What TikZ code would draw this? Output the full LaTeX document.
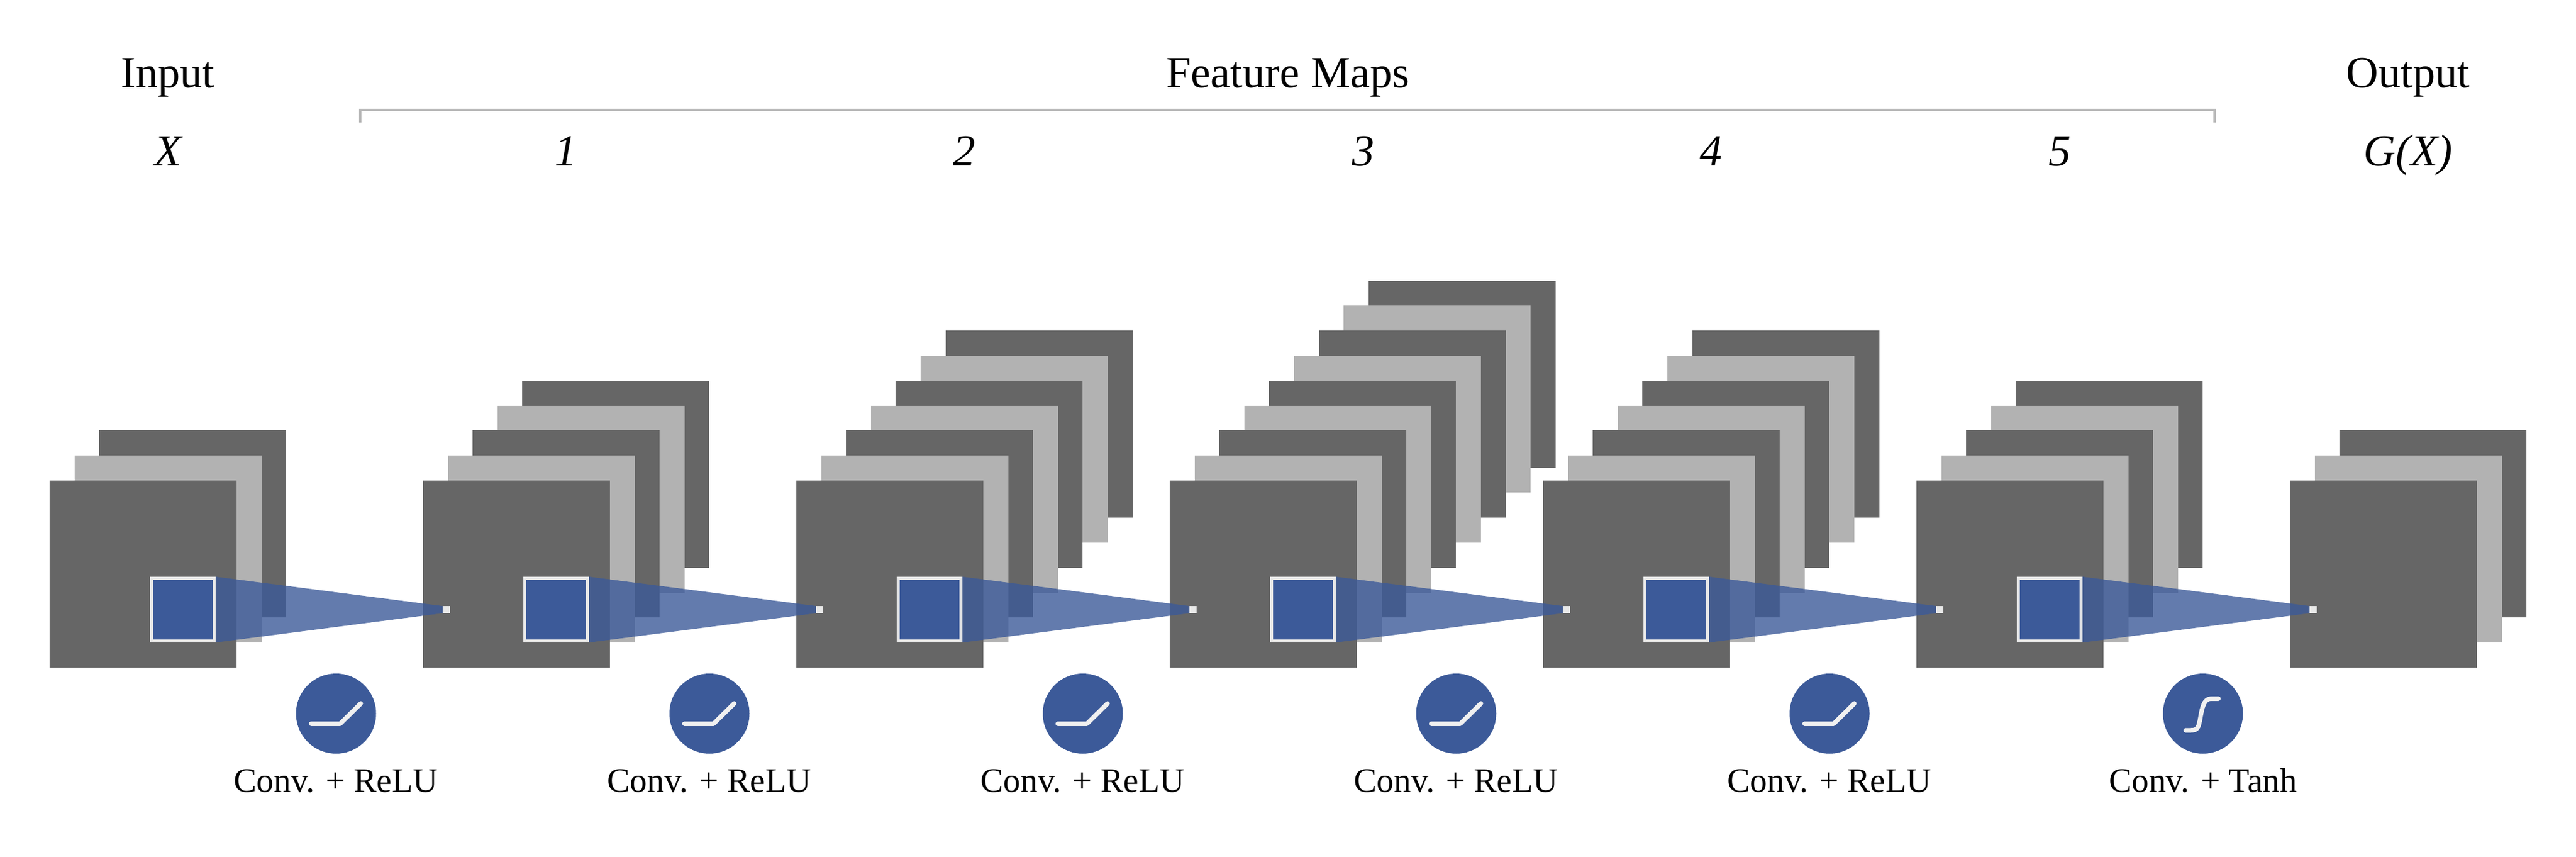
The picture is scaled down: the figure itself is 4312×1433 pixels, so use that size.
\documentclass[tikz,border=0pt]{standalone}
\usepackage{fontspec}
\setmainfont{Liberation Serif}
\pgfdeclarelayer{stacklayer}
\pgfdeclarelayer{trilayer}
\pgfsetlayers{stacklayer,trilayer,main}
\definecolor{darkmap}{HTML}{666666}
\definecolor{lightmap}{HTML}{B2B2B2}
\definecolor{bluemap}{HTML}{3C5A99}
\definecolor{edgewhite}{HTML}{E8E8E8}
\definecolor{brk}{HTML}{B8B8B8}
\tikzset{
  mapbox/.style={rectangle,minimum width=313pt,minimum height=313pt,inner sep=0pt,outer sep=0pt},
  patchbox/.style={rectangle,fill=bluemap,draw=edgewhite,line width=5pt,minimum size=105pt,inner sep=0pt},
  apexbox/.style={rectangle,fill=edgewhite,minimum size=12pt,inner sep=0pt,outer sep=0pt},
  cone/.style={fill=bluemap,fill opacity=.8},
  actdisc/.style={circle,fill=bluemap,minimum size=134pt,inner sep=0pt,outer sep=0pt},
  icon/.style={draw=white!94!black,line width=7.5pt,line cap=round,line join=round},
  head/.style={anchor=base,font=\fontsize{74.5}{80}\selectfont,inner sep=0pt},
  headit/.style={anchor=base,font=\fontsize{74.5}{80}\selectfont\itshape,inner sep=0pt},
  oplabel/.style={anchor=base,font=\fontsize{57.4}{62}\selectfont,inner sep=0pt},
  bracketline/.style={draw=brk,line width=4pt}
}
\begin{document}
\begin{tikzpicture}[x=1pt,y=-1pt]
\useasboundingbox (0,0) rectangle (4312,1433);
% stacks of feature maps
\begin{pgfonlayer}{stacklayer}
\foreach \k/\n in {0/3,1/5,2/7,3/9,4/7,5/5,6/3}{
  \pgfmathtruncatemacro{\top}{\n-1}
  \foreach \j in {\top,...,0}{
    \pgfmathtruncatemacro{\odd}{mod(\j,2)}
    \pgfmathsetmacro{\cx}{83+625*\k+41.6*\j+156.5}
    \pgfmathsetmacro{\cy}{804-41.8*\j+156.5}
    \ifnum\odd=0
      \node[mapbox,fill=darkmap] (layer-\k-\j) at (\cx,\cy) {};
    \else
      \node[mapbox,fill=lightmap] (layer-\k-\j) at (\cx,\cy) {};
    \fi
  }
}
\end{pgfonlayer}
% patches, apexes and cones
\foreach \k in {0,...,5}{
  \pgfmathtruncatemacro{\nx}{\k+1}
  \node[patchbox] (patch-\k) at (306+625*\k,1020) {};
  \node[apexbox] (apex-\nx) at (747+625*\k,1020) {};
  \begin{pgfonlayer}{trilayer}
    \fill[cone] (patch-\k.north east) -- (apex-\nx.north west) -- (apex-\nx.south west) -- (patch-\k.south east) -- cycle;
  \end{pgfonlayer}
  \node[actdisc] (act-\k) at (562.5+625*\k,1194) {};
}
\foreach \k in {0,...,4}{
  \draw[icon,shift={(act-\k.center)}] (-42,17) -- (7,17) -- (41.5,-17);
  \node[oplabel] (op-\k) at (562+625*\k,1325) {Conv. + ReLU};
}
\draw[icon,shift={(act-5.center)}] (-29,28) -- (-20,28) .. controls (-8,28) and (-7,22) .. (-4,5) .. controls (-1,-12) and (2,-25) .. (14,-25) -- (26,-25);
\node[oplabel] (op-5) at (3687.5,1325) {Conv. + Tanh};
% headings
\node[head] (input) at (281,146) {Input};
\node[head] (features) at (2156,146) {Feature Maps};
\node[head] (output) at (4031,146) {Output};
\node[headit] (x) at (281,277) {X};
\node[headit] (n1) at (947,277) {1};
\node[headit] (n2) at (1614,277) {2};
\node[headit] (n3) at (2282,277) {3};
\node[headit] (n4) at (2864,277) {4};
\node[headit] (n5) at (3448,277) {5};
\node[headit] (gx) at (4031,277) {G(X)};
% bracket
\coordinate (bl) at (603,205);
\coordinate (tl) at (603,184);
\coordinate (tr) at (3707,184);
\coordinate (br) at (3707,205);
\draw[bracketline] (bl) -- (tl) -- (tr) -- (br);
\end{tikzpicture}
\end{document}
